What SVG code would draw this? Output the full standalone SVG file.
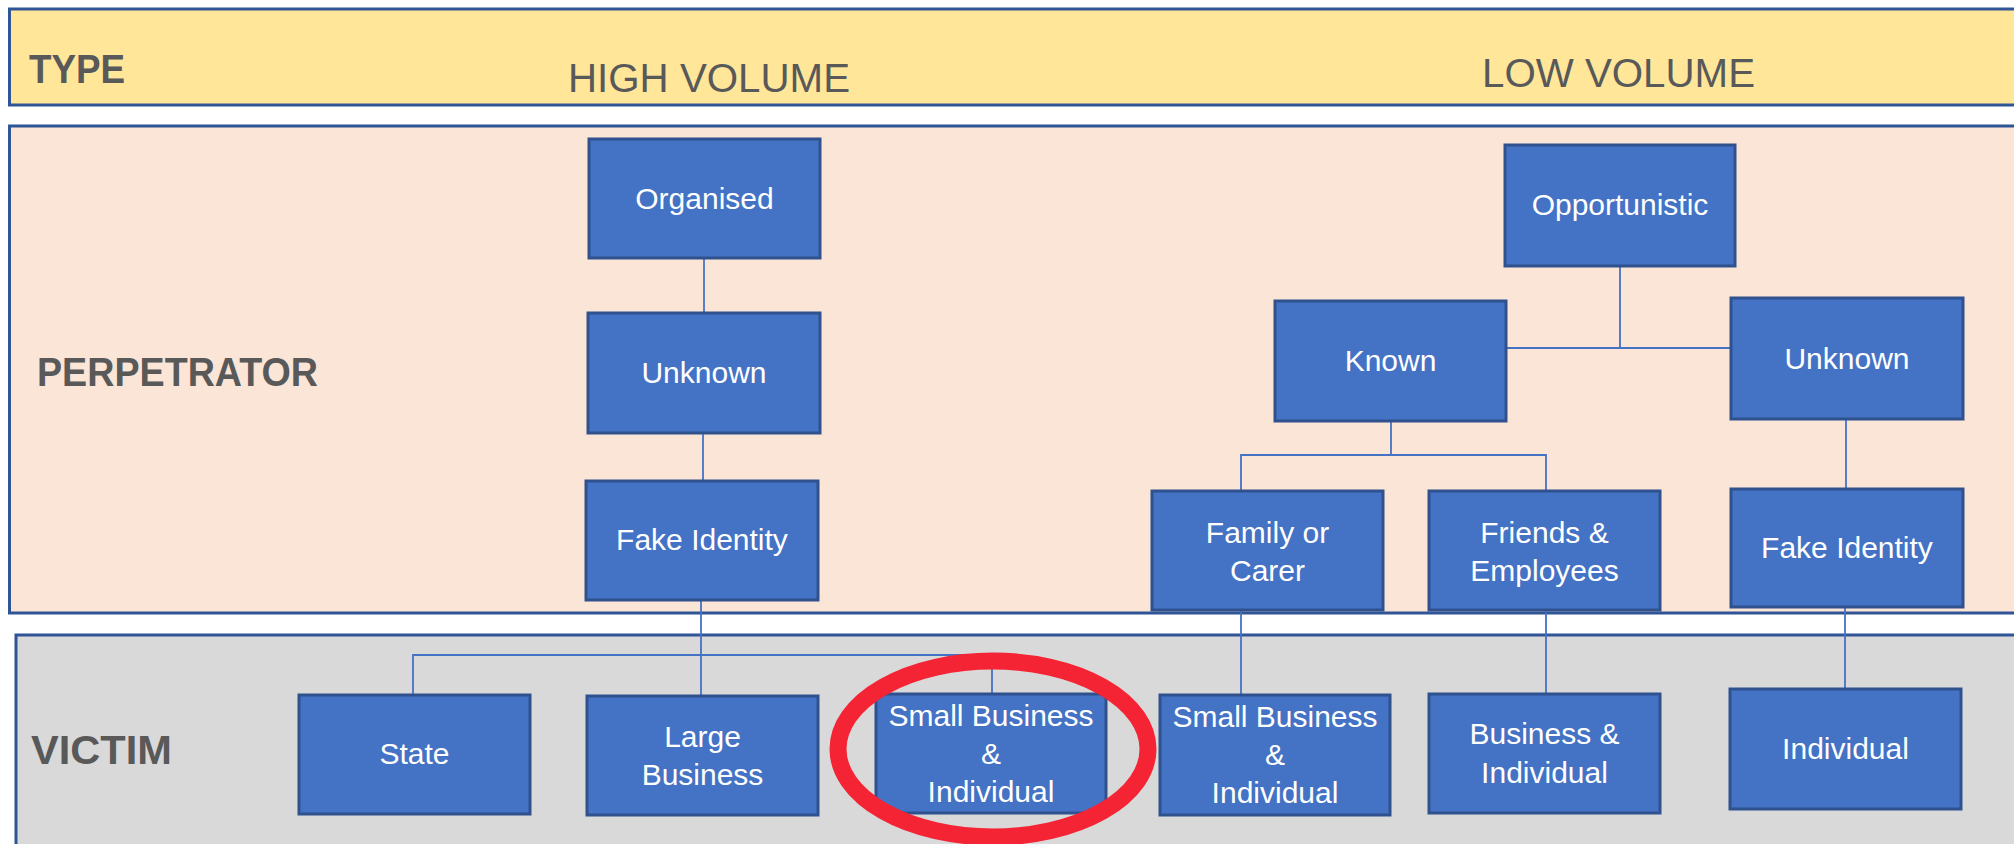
<svg xmlns="http://www.w3.org/2000/svg" width="2014" height="844" viewBox="0 0 2014 844">
<style>
.band{stroke:#2F5597;stroke-width:3}
.node rect{fill:#4472C4;stroke:#2F528F;stroke-width:3}
.node text{fill:#FFFFFF;font-family:"Liberation Sans",Arial,sans-serif;font-size:30px;text-anchor:middle}
.lbl{fill:#595959;font-family:"Liberation Sans",Arial,sans-serif;font-size:40px}
.bold{font-weight:bold}
#connectors path{fill:none;stroke:#4472C4;stroke-width:1.8}
</style>
<rect width="2014" height="844" fill="#FFFFFF"/>
<g id="bands">
<rect class="band" x="9.5" y="9" width="2030" height="96" fill="#FFE699"/>
<rect class="band" x="9.5" y="126" width="2030" height="487" fill="#FBE5D6"/>
<rect class="band" x="16" y="635" width="2030" height="240" fill="#D9D9D9"/>
</g>
<g id="labels">
<text class="lbl bold" x="29" y="83" textLength="96" lengthAdjust="spacingAndGlyphs">TYPE</text>
<text class="lbl" x="568" y="92" textLength="282" lengthAdjust="spacingAndGlyphs">HIGH VOLUME</text>
<text class="lbl" x="1482" y="87" textLength="273" lengthAdjust="spacingAndGlyphs">LOW VOLUME</text>
<text class="lbl bold" x="37" y="386" textLength="281" lengthAdjust="spacingAndGlyphs">PERPETRATOR</text>
<text class="lbl bold" x="31" y="764" textLength="141" lengthAdjust="spacingAndGlyphs">VICTIM</text>
</g>
<g id="connectors">
<path d="M704,258V313"/>
<path d="M703,433V481"/>
<path d="M1620,266V348M1506,348H1731"/>
<path d="M1391,421V455M1241,491V455H1546V491"/>
<path d="M1846,419V489"/>
<path d="M701,600V655M413,695V655H992V694M701,655V696"/>
<path d="M1241,610V695"/>
<path d="M1546,610V694"/>
<path d="M1845,607V689"/>
</g>
<g id="n-organised" class="node"><rect x="589" y="139" width="231" height="119"/><text x="704.5" y="209">Organised</text></g>
<g id="n-unknown-hv" class="node"><rect x="588" y="313" width="232" height="120"/><text x="704" y="383">Unknown</text></g>
<g id="n-fake-hv" class="node"><rect x="586" y="481" width="232" height="119"/><text x="702" y="550">Fake Identity</text></g>
<g id="n-opportunistic" class="node"><rect x="1505" y="145" width="230" height="121"/><text x="1620" y="215">Opportunistic</text></g>
<g id="n-known" class="node"><rect x="1275" y="301" width="231" height="120"/><text x="1390.5" y="371">Known</text></g>
<g id="n-unknown-lv" class="node"><rect x="1731" y="298" width="232" height="121"/><text x="1847" y="369">Unknown</text></g>
<g id="n-family" class="node"><rect x="1152" y="491" width="231" height="119"/><text x="1267.5" y="543">Family or</text><text x="1267.5" y="581">Carer</text></g>
<g id="n-friends" class="node"><rect x="1429" y="491" width="231" height="119"/><text x="1544.5" y="543">Friends &amp;</text><text x="1544.5" y="581">Employees</text></g>
<g id="n-fake-lv" class="node"><rect x="1731" y="489" width="232" height="118"/><text x="1847" y="558">Fake Identity</text></g>
<g id="n-state" class="node"><rect x="299" y="695" width="231" height="119"/><text x="414.5" y="764">State</text></g>
<g id="n-large" class="node"><rect x="587" y="696" width="231" height="119"/><text x="702.5" y="747">Large</text><text x="702.5" y="785">Business</text></g>
<g id="n-small-hv" class="node"><rect x="876" y="694" width="230" height="119"/><text x="991" y="726">Small Business</text><text x="991" y="764">&amp;</text><text x="991" y="802">Individual</text></g>
<g id="n-small-lv" class="node"><rect x="1160" y="695" width="230" height="120"/><text x="1275" y="727">Small Business</text><text x="1275" y="765">&amp;</text><text x="1275" y="803">Individual</text></g>
<g id="n-business" class="node"><rect x="1429" y="694" width="231" height="119"/><text x="1544.5" y="744">Business &amp;</text><text x="1544.5" y="783">Individual</text></g>
<g id="n-individual" class="node"><rect x="1730" y="689" width="231" height="120"/><text x="1845.5" y="759">Individual</text></g>
<ellipse id="highlight" cx="993" cy="749" rx="155" ry="88" fill="none" stroke="#F42434" stroke-width="17"/>
</svg>
